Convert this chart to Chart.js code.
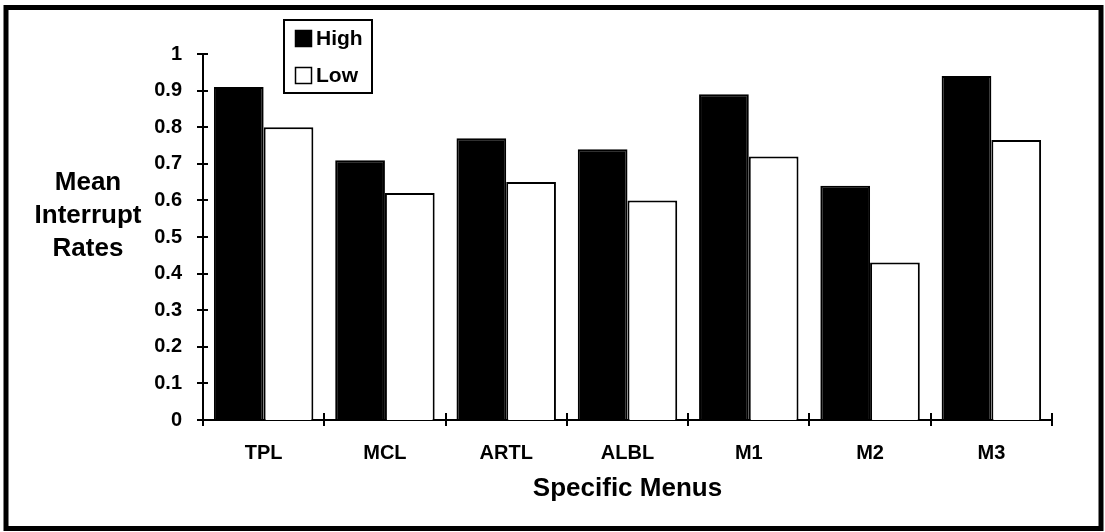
<!DOCTYPE html>
<html>
<head>
<meta charset="utf-8">
<script src="https://cdn.jsdelivr.net/npm/chart.js@4.4.1/dist/chart.umd.min.js"></script>
<style>
  html, body { margin: 0; padding: 0; background: #fff; }
  canvas { display: block; }
</style>
</head>
<body>
<canvas id="chart" width="1105" height="532"></canvas>
<script>
// data
const MENUS = ['TPL', 'MCL', 'ARTL', 'ALBL', 'M1', 'M2', 'M3'];
const HIGH = [0.91, 0.71, 0.77, 0.74, 0.89, 0.64, 0.94];
const LOW = [0.80, 0.62, 0.65, 0.60, 0.72, 0.43, 0.765];
const Y_TICKS = ['0', '0.1', '0.2', '0.3', '0.4', '0.5', '0.6', '0.7', '0.8', '0.9', '1'];
const Y_TITLE = ['Mean', 'Interrupt', 'Rates'];
const X_TITLE = 'Specific Menus';

const FONT = "'Liberation Sans', Arial, sans-serif";

// frame, crossing tick marks, y title and legend box
const decorations = {
  id: 'decorations',
  afterDraw(chart) {
    const ctx = chart.ctx;
    const x = chart.scales.x, y = chart.scales.y;
    const area = chart.chartArea;
    ctx.save();
    ctx.strokeStyle = '#000';

    // outer frame
    ctx.lineWidth = 5;
    ctx.strokeRect(6, 7.5, 1095, 521);

    // y ticks crossing the axis
    ctx.lineWidth = 2;
    ctx.beginPath();
    y.ticks.forEach(t => {
      const py = Math.round(y.getPixelForValue(t.value));
      ctx.moveTo(area.left - 6, py);
      ctx.lineTo(area.left + 5, py);
    });
    // x ticks at category boundaries
    for (let i = 0; i <= MENUS.length; i++) {
      const px = Math.round(x.getPixelForValue(i - 0.5));
      ctx.moveTo(px, area.bottom - 7);
      ctx.lineTo(px, area.bottom + 6);
    }
    ctx.stroke();

    // y axis title, horizontal, three lines
    ctx.fillStyle = '#000';
    ctx.font = 'bold 26px ' + FONT;
    ctx.textAlign = 'center';
    ctx.textBaseline = 'middle';
    Y_TITLE.forEach((line, i) => ctx.fillText(line, 88, 183 + i * 33));

    // legend
    ctx.lineWidth = 2;
    ctx.strokeRect(284, 20, 88, 73);
    ctx.font = 'bold 21px ' + FONT;
    ctx.textAlign = 'left';
    chart.data.datasets.forEach((ds, i) => {
      const top = 30 + i * 37;
      ctx.fillStyle = ds.backgroundColor;
      ctx.fillRect(295, top, 17, 17);
      ctx.lineWidth = 1.5;
      ctx.strokeRect(295.5, top + 0.5, 16, 16);
      ctx.fillStyle = '#000';
      ctx.fillText(ds.label, 316, top + 9);
    });
    ctx.restore();
  }
};

new Chart(document.getElementById('chart'), {
  type: 'bar',
  data: {
    labels: MENUS,
    datasets: [
      { label: 'High', data: HIGH, backgroundColor: '#000000', borderColor: '#000', borderWidth: 2 },
      { label: 'Low', data: LOW, backgroundColor: '#ffffff', borderColor: '#000', borderWidth: 2 }
    ]
  },
  options: {
    responsive: false,
    animation: false,
    layout: { padding: { top: 54, right: 53, left: 0, bottom: 0 } },
    datasets: { bar: { categoryPercentage: 0.82, barPercentage: 1.0 } },
    plugins: { legend: { display: false }, tooltip: { enabled: false } },
    scales: {
      x: {
        grid: { display: false },
        border: { display: true, color: '#000', width: 2 },
        ticks: { color: '#000', font: { family: FONT, size: 20, weight: 'bold' }, padding: 13, maxRotation: 0 },
        title: {
          display: true, text: X_TITLE, color: '#000',
          font: { family: FONT, size: 26, weight: 'bold' },
          padding: { top: 4, bottom: 28 }
        },
        afterFit: s => { s.height = 112; }
      },
      y: {
        min: 0, max: 1,
        grid: { display: false },
        border: { display: true, color: '#000', width: 2 },
        ticks: {
          stepSize: 0.1, color: '#000', padding: 13,
          font: { family: FONT, size: 20, weight: 'bold' },
          callback: (v, i) => Y_TICKS[i]
        },
        afterFit: s => { s.width = 203; }
      }
    }
  },
  plugins: [decorations]
});
</script>
</body>
</html>
